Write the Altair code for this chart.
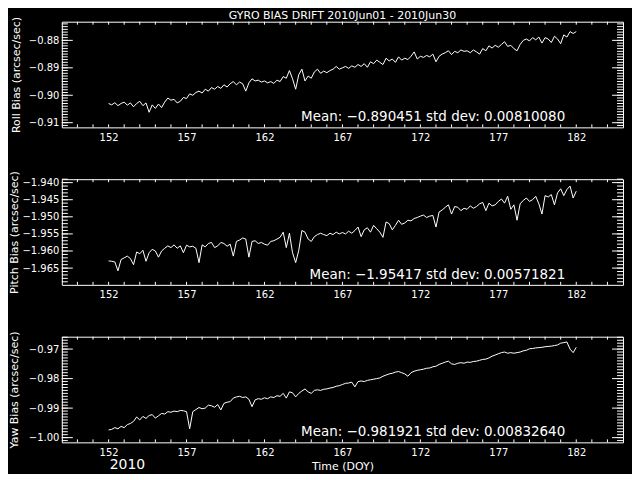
import altair as alt
import pandas as pd

# ---------------- data ----------------
START_DOY = 152.0
STEP_DAYS = 0.2

roll = [
    -0.9030, -0.9035, -0.9027, -0.9038, -0.9030,
    -0.9025, -0.9036, -0.9028, -0.9042, -0.9030,
    -0.9022, -0.9038, -0.9028, -0.9062, -0.9035,
    -0.9048, -0.9032, -0.9045, -0.9025, -0.9010,
    -0.9018, -0.9015, -0.9028, -0.9022, -0.9008,
    -0.9012, -0.8995, -0.9000, -0.8990, -0.8985,
    -0.8992, -0.8978, -0.8985, -0.8972, -0.8978,
    -0.8968, -0.8975, -0.8962, -0.8970, -0.8958,
    -0.8950, -0.8962, -0.8952, -0.8958, -0.8985,
    -0.8955, -0.8940, -0.8948, -0.8945, -0.8952,
    -0.8948, -0.8955, -0.8950, -0.8957, -0.8945,
    -0.8950, -0.8932, -0.8938, -0.8910, -0.8940,
    -0.8978, -0.8925, -0.8905, -0.8948, -0.8930,
    -0.8938, -0.8915, -0.8905, -0.8920, -0.8912,
    -0.8918, -0.8910, -0.8905, -0.8895, -0.8905,
    -0.8900, -0.8895, -0.8902, -0.8893, -0.8898,
    -0.8888, -0.8895, -0.8885, -0.8898, -0.8878,
    -0.8885, -0.8872, -0.8880, -0.8888, -0.8865,
    -0.8875, -0.8868, -0.8880, -0.8860, -0.8872,
    -0.8865, -0.8870, -0.8858, -0.8842, -0.8868,
    -0.8858, -0.8862, -0.8855, -0.8860, -0.8850,
    -0.8878, -0.8858, -0.8850, -0.8845, -0.8838,
    -0.8852, -0.8840, -0.8845, -0.8835, -0.8840,
    -0.8838, -0.8845, -0.8835, -0.8842, -0.8850,
    -0.8830, -0.8838, -0.8820, -0.8828, -0.8818,
    -0.8825, -0.8815, -0.8805, -0.8822, -0.8818,
    -0.8830, -0.8838, -0.8815, -0.8800, -0.8795,
    -0.8802, -0.8790, -0.8798, -0.8788, -0.8810,
    -0.8790, -0.8795, -0.8808, -0.8785, -0.8795,
    -0.8812, -0.8780, -0.8788, -0.8768, -0.8775,
    -0.8768,
]

pitch = [
    -1.9629, -1.9630, -1.9632, -1.9658, -1.9625,
    -1.9620, -1.9615, -1.9622, -1.9640, -1.9603,
    -1.9608, -1.9598, -1.9630, -1.9605, -1.9595,
    -1.9600, -1.9618, -1.9600, -1.9592, -1.9585,
    -1.9590, -1.9582, -1.9592, -1.9585, -1.9605,
    -1.9583, -1.9588, -1.9586, -1.9592, -1.9634,
    -1.9582, -1.9588, -1.9578, -1.9575, -1.9590,
    -1.9585, -1.9575, -1.9578, -1.9586, -1.9580,
    -1.9615, -1.9572, -1.9568, -1.9562, -1.9565,
    -1.9618, -1.9572, -1.9570, -1.9578, -1.9575,
    -1.9580, -1.9583, -1.9572, -1.9570, -1.9565,
    -1.9560, -1.9545, -1.9590, -1.9548, -1.9605,
    -1.9634, -1.9598, -1.9540, -1.9545, -1.9565,
    -1.9572, -1.9558, -1.9552, -1.9548, -1.9552,
    -1.9555, -1.9548, -1.9552, -1.9545, -1.9550,
    -1.9546, -1.9550, -1.9542, -1.9548, -1.9540,
    -1.9530, -1.9558, -1.9538, -1.9532, -1.9545,
    -1.9525, -1.9535, -1.9545, -1.9560, -1.9515,
    -1.9520, -1.9538, -1.9525, -1.9510, -1.9522,
    -1.9518, -1.9510, -1.9512, -1.9505, -1.9502,
    -1.9498, -1.9495, -1.9502, -1.9498, -1.9496,
    -1.9530, -1.9486, -1.9480, -1.9472, -1.9465,
    -1.9492, -1.9470, -1.9472, -1.9482, -1.9475,
    -1.9478, -1.9468, -1.9475, -1.9470, -1.9462,
    -1.9458, -1.9482, -1.9460, -1.9468, -1.9465,
    -1.9455, -1.9448, -1.9460, -1.9440, -1.9478,
    -1.9465, -1.9510, -1.9462, -1.9452, -1.9445,
    -1.9455, -1.9450, -1.9440, -1.9462, -1.9492,
    -1.9438, -1.9442, -1.9435, -1.9465, -1.9430,
    -1.9418, -1.9438, -1.9420, -1.9410, -1.9445,
    -1.9425,
]

yaw = [
    -0.9974, -0.9972, -0.9966, -0.9970, -0.9962,
    -0.9966, -0.9956, -0.9952, -0.9945, -0.9930,
    -0.9940, -0.9928, -0.9935, -0.9925, -0.9922,
    -0.9934, -0.9926, -0.9918, -0.9920, -0.9912,
    -0.9914, -0.9910, -0.9912, -0.9908, -0.9909,
    -0.9912, -0.9970, -0.9912, -0.9905, -0.9898,
    -0.9902, -0.9900, -0.9890, -0.9892, -0.9897,
    -0.9888, -0.9906, -0.9884, -0.9880, -0.9878,
    -0.9866, -0.9862, -0.9860, -0.9864, -0.9862,
    -0.9870, -0.9895, -0.9872, -0.9868, -0.9870,
    -0.9865, -0.9868, -0.9862, -0.9864, -0.9858,
    -0.9860, -0.9850, -0.9866, -0.9845, -0.9848,
    -0.9862, -0.9850, -0.9842, -0.9835, -0.9845,
    -0.9850, -0.9840, -0.9838, -0.9840, -0.9836,
    -0.9835, -0.9832, -0.9830, -0.9826, -0.9824,
    -0.9820, -0.9816, -0.9815, -0.9812, -0.9828,
    -0.9810, -0.9808, -0.9810, -0.9806, -0.9804,
    -0.9802, -0.9800, -0.9798, -0.9792, -0.9788,
    -0.9784, -0.9782, -0.9778, -0.9776, -0.9780,
    -0.9784, -0.9792, -0.9780, -0.9775, -0.9772,
    -0.9770, -0.9768, -0.9765, -0.9764, -0.9760,
    -0.9758, -0.9752, -0.9748, -0.9744, -0.9741,
    -0.9750, -0.9752, -0.9748, -0.9746, -0.9748,
    -0.9744, -0.9745, -0.9742, -0.9741, -0.9738,
    -0.9735, -0.9734, -0.9730, -0.9724, -0.9720,
    -0.9716, -0.9712, -0.9710, -0.9714, -0.9712,
    -0.9714, -0.9712, -0.9710, -0.9706, -0.9704,
    -0.9699, -0.9698, -0.9696, -0.9695, -0.9694,
    -0.9692, -0.9691, -0.9690, -0.9688, -0.9686,
    -0.9680, -0.9678, -0.9676, -0.9700, -0.9712,
    -0.9694,
]

x_domain = [149, 185]
x_labels = [152, 157, 162, 167, 172, 177, 182]
x_ticks = list(range(150, 185))

roll_domain = [-0.9117, -0.8732]
roll_major = [-0.91, -0.90, -0.89, -0.88]
roll_minor = [round(-0.911 + 0.001 * k, 3) for k in range(38)]

pitch_domain = [-1.9699, -1.9390]
pitch_major = [-1.965, -1.960, -1.955, -1.950, -1.945, -1.940]
pitch_minor = [round(-1.969 + 0.001 * k, 3) for k in range(31)]

yaw_domain = [-1.0016, -0.9658]
yaw_major = [-1.00, -0.99, -0.98, -0.97]
yaw_minor = [round(-1.001 + 0.001 * k, 3) for k in range(36)]

title_text = "GYRO BIAS DRIFT 2010Jun01 - 2010Jun30"
roll_mean = "Mean: \u22120.890451 std dev: 0.00810080"
pitch_mean = "Mean: \u22121.95417 std dev: 0.00571821"
yaw_mean = "Mean: \u22120.981921 std dev: 0.00832640"
year_text = "2010"

doy = [START_DOY + i * STEP_DAYS for i in range(len(roll))]

# ---------------- style ----------------
W, H = 563, 106
FONT = "DejaVu Sans"
WHITE = "white"


def panel(vals, ydom, major, minor, fmt, ytitle, title_x, mean_text,
          bottom=False, top=False):
    xs = alt.Scale(domain=x_domain, nice=False, zero=False)
    ys = alt.Scale(domain=ydom, nice=False, zero=False)
    df = pd.DataFrame({"doy": doy[:len(vals)], "v": vals})

    xkw = dict(values=x_labels, format="d", ticks=False, tickSize=0,
               domain=False, grid=False, labelColor=WHITE, labelFont=FONT,
               labelFontSize=10, labelPadding=5)
    if bottom:
        xkw.update(title="Time (DOY)", titleColor=WHITE, titleFont=FONT,
                   titleFontSize=11, titleFontWeight="normal", titlePadding=3)
    else:
        xkw.update(title=None)
    xaxis = alt.Axis(**xkw)

    yaxis = alt.Axis(values=major, format=fmt, ticks=False, tickSize=0,
                     domain=False, grid=False, labelColor=WHITE, labelFont=FONT,
                     labelFontSize=10, labelPadding=3,
                     title=ytitle, titleColor=WHITE, titleFont=FONT,
                     titleFontSize=11, titleFontWeight="normal",
                     titleX=title_x, titleY=H / 2, titleAngle=270,
                     titleAlign="center", titleBaseline="middle")

    X = alt.X("doy:Q", scale=xs, axis=xaxis)
    Y = alt.Y("v:Q", scale=ys, axis=yaxis)

    line = alt.Chart(df).mark_line(color=WHITE, strokeWidth=1, clip=True).encode(
        x=X, y=Y)

    minor_df = pd.DataFrame({"v": minor})
    major_df = pd.DataFrame({"v": major})
    xt_df = pd.DataFrame({"doy": x_ticks})

    def yrule(d, x0, x1):
        return alt.Chart(d).mark_rule(color=WHITE, strokeWidth=1).encode(
            y=Y, x=alt.value(x0), x2=alt.value(x1))

    def xrule(y0, y1):
        return alt.Chart(xt_df).mark_rule(color=WHITE, strokeWidth=1).encode(
            x=X, y=alt.value(y0), y2=alt.value(y1))

    mean = alt.Chart(pd.DataFrame({"s": [mean_text]})).mark_text(
        align="right", baseline="alphabetic", color=WHITE, font=FONT,
        fontSize=13.5).encode(x=alt.value(505), y=alt.value(100), text="s:N")

    layers = [line,
              yrule(minor_df, 0, 6), yrule(minor_df, W, W - 6),
              yrule(major_df, 0, 11), yrule(major_df, W, W - 11),
              xrule(H, H - 3), xrule(0, 3), mean]

    if top:
        layers.append(alt.Chart(pd.DataFrame({"s": [title_text]})).mark_text(
            align="center", baseline="alphabetic", color=WHITE, font=FONT,
            fontSize=11).encode(x=alt.value(W / 2), y=alt.value(-3), text="s:N"))
    if bottom:
        layers.append(alt.Chart(pd.DataFrame({"s": [year_text]})).mark_text(
            align="left", baseline="alphabetic", color=WHITE, font=FONT,
            fontSize=14).encode(x=alt.value(48), y=alt.value(H + 27), text="s:N"))

    return alt.layer(*layers).properties(width=W, height=H)


p1 = panel(roll, roll_domain, roll_major, roll_minor, ".2f",
           "Roll Bias (arcsec/sec)", -45, roll_mean, top=True)
p2 = panel(pitch, pitch_domain, pitch_major, pitch_minor, ".3f",
           "Pitch Bias (arcsec/sec)", -47, pitch_mean)
p3 = panel(yaw, yaw_domain, yaw_major, yaw_minor, ".2f",
           "Yaw Bias (arcsec/sec)", -47, yaw_mean, bottom=True)

chart = alt.vconcat(p1, p2, p3, spacing=52, bounds="flush").properties(
    padding={"left": 0, "top": 0, "right": 8, "bottom": 0}
).configure(background="black", font=FONT).configure_view(
    stroke=WHITE, strokeWidth=1
)

chart.save("out.html", embed_options={"renderer": "svg", "actions": False})
